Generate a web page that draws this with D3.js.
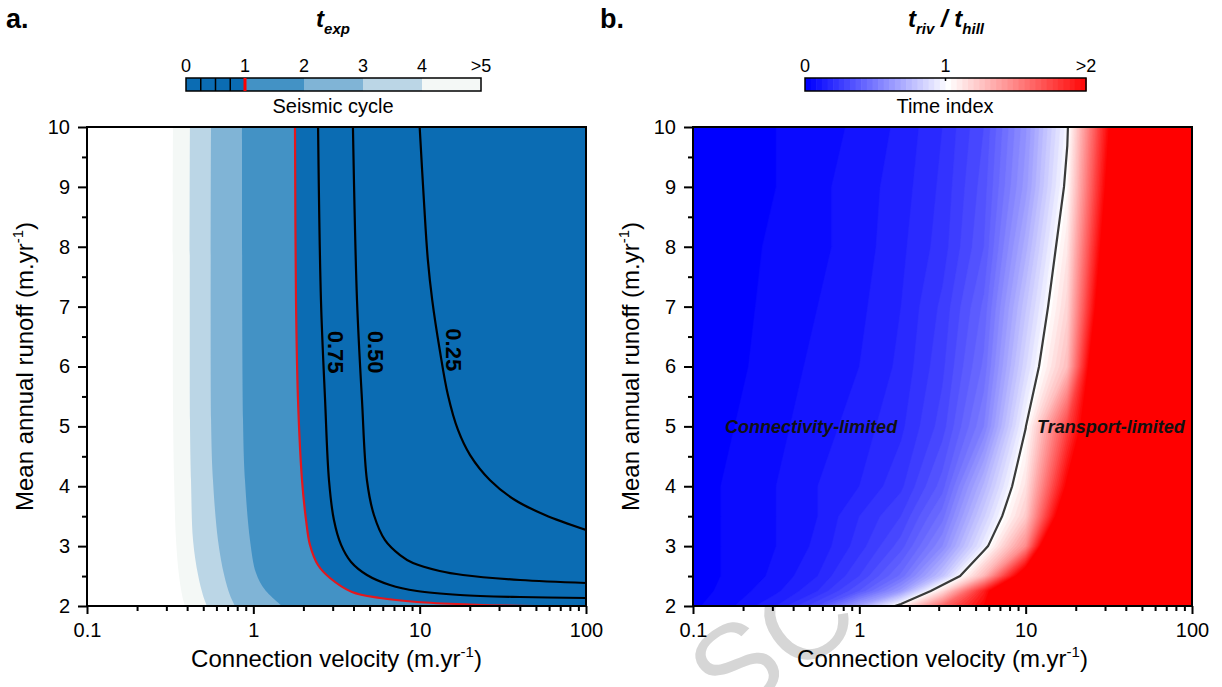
<!DOCTYPE html>
<html>
<head>
<meta charset="utf-8">
<script src="https://cdn.jsdelivr.net/npm/d3@7"></script>
<style>
  body { margin: 0; background: #fff; }
  text { font-family: Arial, "Liberation Sans", sans-serif; }
</style>
</head>
<body>
<svg id="fig" width="1222" height="687"></svg>
<script>
// ---------------- Shared axis values ----------------
const velMajor = [0.1, 1, 10, 100];
const velMajorLabels = ["0.1", "1", "10", "100"];
const velMinor = [0.2,0.3,0.4,0.5,0.6,0.7,0.8,0.9, 2,3,4,5,6,7,8,9, 20,30,40,50,60,70,80,90];
const runoffMajor = [2, 3, 4, 5, 6, 7, 8, 9, 10];
const runoffMinor = [2.5, 3.5, 4.5, 5.5, 6.5, 7.5, 8.5, 9.5];

// ---------------- Panel a: exposure time (seismic cycles) ----------------
// band colours: [0-1], [1-2], [2-3], [3-4], [4-5]; >5 is white
const expBandColors = ["#0b6cb3", "#4392c5", "#80b4d6", "#bbd6e6", "#f4f8f6"];
const expBarTicks = [0, 1, 2, 3, 4, 5];
const expBarLabels = ["0", "1", "2", "3", "4", ">5"];
// iso-lines as [connection velocity, runoff]
const expLine5 = [[0.329,10],[0.329,5.44],[0.334,4.10],[0.343,3.10],[0.357,2.52],[0.373,2.18],[0.388,2.0]];
const expLine4 = [[0.416,10],[0.416,5.11],[0.422,4.10],[0.434,3.10],[0.465,2.52],[0.498,2.18],[0.526,2.0]];
const expLine3 = [[0.557,10],[0.557,5.11],[0.572,4.10],[0.613,3.10],[0.667,2.52],[0.724,2.18],[0.776,2.0]];
const expLine2 = [[0.855,10],[0.867,5.11],[0.891,4.10],[0.955,3.10],[1.038,2.55],[1.175,2.27],[1.486,2.0]];
const expLine1 = [[1.78,10],[1.805,7.11],[1.856,5.44],[1.962,4.10],[2.074,3.44],[2.191,3.02],[2.448,2.685],
                  [2.89,2.468],[3.92,2.234],[5.77,2.134],[9.64,2.067],[20.1,2.025],[40,2.004],[100,2.0]];
const expLine075 = [[2.45,10],[2.55,7.11],[2.70,5.44],[2.85,4.10],[3.05,3.44],[3.37,3.02],[3.87,2.735],
                    [4.82,2.518],[6.63,2.351],[9.64,2.25],[17.5,2.184],[40.1,2.15],[100,2.134]];
const expLine050 = [[3.97,10],[4.20,7.11],[4.50,5.44],[4.82,4.10],[5.31,3.52],[6.19,3.10],[7.62,2.85],
                    [9.12,2.718],[13.2,2.585],[18.2,2.518],[40.1,2.434],[100,2.384]];
const expLine025 = [[10.0,10],[10.6,8.78],[11.2,7.78],[11.9,7.11],[13.2,6.28],[14.8,5.52],[17.0,4.94],
                    [20.1,4.52],[26.5,4.10],[37.4,3.77],[56.7,3.52],[100,3.27]];

// ---------------- Panel b: t_riv / t_hill ----------------
const riverVel = [0.1, 0.178, 0.316, 0.562, 1, 1.78, 3.16, 5.62, 10, 17.8, 31.6, 56.2, 100];
const riverRunoff = [2, 2.25, 2.5, 3, 3.5, 4, 5, 6, 7, 8, 9, 10];
// one row per runoff value (bottom to top), one column per velocity
const timeIndex = [
  [0.03, 0.08, 0.16, 0.32, 0.65, 1.06, 1.60, 2.01, 2.80, 3.4, 3.9, 4.4, 4.8],
  [0.02, 0.06, 0.11, 0.20, 0.36, 0.62, 1.15, 1.90, 2.73, 3.3, 3.8, 4.3, 4.7],
  [0.02, 0.05, 0.09, 0.16, 0.28, 0.45, 0.78, 1.30, 2.23, 2.9, 3.5, 4.0, 4.5],
  [0.02, 0.05, 0.08, 0.13, 0.22, 0.34, 0.56, 0.95, 1.47, 3.0, 3.5, 4.0, 4.4],
  [0.02, 0.05, 0.08, 0.12, 0.20, 0.28, 0.46, 0.83, 1.22, 2.32, 2.9, 3.4, 3.9],
  [0.02, 0.05, 0.08, 0.12, 0.16, 0.23, 0.38, 0.73, 1.13, 2.05, 2.7, 3.2, 3.7],
  [0.02, 0.04, 0.07, 0.10, 0.14, 0.19, 0.30, 0.52, 0.995, 1.75, 2.56, 3.1, 3.6],
  [0.01, 0.03, 0.06, 0.09, 0.12, 0.17, 0.27, 0.45, 0.87, 1.276, 2.72, 3.2, 3.7],
  [0.01, 0.03, 0.05, 0.08, 0.11, 0.16, 0.25, 0.41, 0.79, 1.18, 2.41, 2.9, 3.5],
  [0.00, 0.02, 0.05, 0.07, 0.10, 0.15, 0.22, 0.36, 0.70, 1.112, 2.24, 2.8, 3.4],
  [0.00, 0.02, 0.04, 0.07, 0.10, 0.14, 0.21, 0.34, 0.62, 1.033, 2.10, 2.7, 3.3],
  [0.00, 0.02, 0.04, 0.06, 0.09, 0.13, 0.20, 0.32, 0.59, 0.985, 2.00, 2.6, 3.2]
];
const indexLevelStep = 0.04;
const indexBarTicks = [0, 1, 2];
const indexBarLabels = ["0", "1", ">2"];

// ---------------- Layout ----------------
const svg = d3.select("#fig");
const FONT = 'Arial, "Liberation Sans", sans-serif';
const pa = {l: 87, r: 586, t: 127, b: 606};
const pb = {l: 693, r: 1192, t: 127, b: 606};

const xA = d3.scaleLog().domain([0.1, 100]).range([pa.l, pa.r]);
const yA = d3.scaleLinear().domain([2, 10]).range([pa.b, pa.t]);
const xB = d3.scaleLog().domain([0.1, 100]).range([pb.l, pb.r]);
const yB = d3.scaleLinear().domain([2, 10]).range([pb.b, pb.t]);

// faint diagonal watermark lettering beneath panel b
svg.append("text").attr("transform", "translate(727,723) rotate(-35)")
  .attr("font-size", 120).attr("fill", "#d6d6d6").attr("font-family", FONT)
  .text("SC");

const defs = svg.append("defs");
defs.append("clipPath").attr("id", "clipA").append("rect")
  .attr("x", pa.l).attr("y", pa.t).attr("width", pa.r - pa.l).attr("height", pa.b - pa.t);
defs.append("clipPath").attr("id", "clipB").append("rect")
  .attr("x", pb.l).attr("y", pb.t).attr("width", pb.r - pb.l).attr("height", pb.b - pb.t);

// ---------------- Panel a plot ----------------
const gA = svg.append("g").attr("clip-path", "url(#clipA)");
gA.append("rect").attr("x", pa.l).attr("y", pa.t).attr("width", pa.r - pa.l)
  .attr("height", pa.b - pa.t).attr("fill", "#fff");

const lineA = d3.line().x(d => xA(d[0])).y(d => yA(d[1])).curve(d3.curveCatmullRom.alpha(0.5));

// region to the right of an iso-line (shorter exposure time)
function rightRegion(pts) {
  let p = lineA(pts);
  const xr = xA(100) + 5, yb = yA(2) + 5, yt = yA(10) - 5;
  p += `L${xr},${yb}L${xr},${yt}L${xA(pts[0][0])},${yt}Z`;
  return p;
}
[[expLine5, 4], [expLine4, 3], [expLine3, 2], [expLine2, 1], [expLine1, 0]].forEach(([pts, ci]) => {
  gA.append("path").attr("d", rightRegion(pts)).attr("fill", expBandColors[ci]);
});
[expLine075, expLine050, expLine025].forEach(pts => {
  gA.append("path").attr("d", lineA(pts)).attr("fill", "none")
    .attr("stroke", "#000").attr("stroke-width", 2.2);
});
gA.append("path").attr("d", lineA(expLine1)).attr("fill", "none")
  .attr("stroke", "#e3171d").attr("stroke-width", 2.2);

// contour labels
[["0.75", 3.14, 6.24], ["0.50", 5.43, 6.24], ["0.25", 16.0, 6.28]].forEach(([t, v, r]) => {
  svg.append("text")
    .attr("transform", `translate(${xA(v)},${yA(r)}) rotate(90)`)
    .attr("text-anchor", "middle").attr("dy", "0.36em")
    .attr("font-size", 22).attr("font-weight", "bold").attr("fill", "#000")
    .text(t);
});

// ---------------- Panel b plot ----------------
const gB = svg.append("g").attr("clip-path", "url(#clipB)");
const nx = riverVel.length, ny = riverRunoff.length;
const grid = [];
for (let j = 0; j < ny; j++) for (let i = 0; i < nx; i++) grid.push(timeIndex[j][i]);

const gx = d3.scaleLinear().domain(d3.range(nx).map(i => i + 0.5)).range(riverVel.map(v => xB(v)));
const gy = d3.scaleLinear().domain(d3.range(ny).map(j => j + 0.5)).range(riverRunoff.map(r => yB(r)));
const gridPath = d3.geoPath(d3.geoTransform({
  point(x, y) { this.stream.point(gx(x), gy(y)); }
}));

const indexColor = d3.scaleLinear().domain([0, 1, 2]).range(["#0000ff", "#ffffff", "#ff0000"]).clamp(true);
const levels = d3.range(0, 2 + 1e-9, indexLevelStep);
const bands = d3.contours().size([nx, ny]).thresholds(levels)(grid);
gB.selectAll("path.band").data(bands).join("path").attr("class", "band")
  .attr("d", gridPath).attr("fill", d => indexColor(d.value))
  .attr("stroke", d => indexColor(d.value)).attr("stroke-width", 0.5);

const unity = d3.contours().size([nx, ny]).contour(grid, 1);
gB.append("path").attr("d", gridPath(unity)).attr("fill", "none")
  .attr("stroke", "#3a3a3a").attr("stroke-width", 2.2);

svg.append("text").attr("x", xB(0.156)).attr("y", yB(5)).attr("dy", "0.36em")
  .attr("font-size", 18).attr("font-weight", "bold").attr("font-style", "italic")
  .attr("fill", "#111").text("Connectivity-limited");
svg.append("text").attr("x", xB(11.7)).attr("y", yB(5)).attr("dy", "0.36em")
  .attr("font-size", 18).attr("font-weight", "bold").attr("font-style", "italic")
  .attr("fill", "#111").text("Transport-limited");

// ---------------- Axes and frames ----------------
function styleAxis(g) {
  g.select(".domain").remove();
  g.attr("font-size", 20).attr("font-family", FONT);
  g.selectAll("line").attr("stroke", "#000").attr("stroke-width", 2);
  g.selectAll("text").attr("fill", "#000");
}
function drawAxes(x, y, p) {
  svg.append("g").attr("transform", `translate(0,${p.b})`)
    .call(d3.axisBottom(x).tickValues(velMinor).tickSize(5).tickFormat("").tickSizeOuter(0)).call(styleAxis);
  svg.append("g").attr("transform", `translate(0,${p.b})`)
    .call(d3.axisBottom(x).tickValues(velMajor).tickSize(8).tickPadding(9)
      .tickFormat((d, i) => velMajorLabels[i]).tickSizeOuter(0)).call(styleAxis);
  svg.append("g").attr("transform", `translate(${p.l},0)`)
    .call(d3.axisLeft(y).tickValues(runoffMinor).tickSize(5).tickFormat("").tickSizeOuter(0)).call(styleAxis);
  svg.append("g").attr("transform", `translate(${p.l},0)`)
    .call(d3.axisLeft(y).tickValues(runoffMajor).tickSize(9).tickPadding(8)
      .tickFormat(d3.format("d")).tickSizeOuter(0)).call(styleAxis);
  svg.append("rect").attr("x", p.l).attr("y", p.t).attr("width", p.r - p.l).attr("height", p.b - p.t)
    .attr("fill", "none").attr("stroke", "#000").attr("stroke-width", 2);

  // axis titles with superscript units
  const xt = svg.append("text").attr("x", (p.l + p.r) / 2).attr("y", 667)
    .attr("text-anchor", "middle").attr("font-size", 24).attr("fill", "#000");
  xt.append("tspan").text("Connection velocity (m.yr");
  xt.append("tspan").attr("dy", -10).attr("font-size", 15).text("-1");
  xt.append("tspan").attr("dy", 10).text(")");
  const yt = svg.append("text").attr("transform", `translate(${p.l - 54},${(p.t + p.b) / 2}) rotate(-90)`)
    .attr("text-anchor", "middle").attr("font-size", 24).attr("fill", "#000");
  yt.append("tspan").text("Mean annual runoff (m.yr");
  yt.append("tspan").attr("dy", -10).attr("font-size", 15).text("-1");
  yt.append("tspan").attr("dy", 10).text(")");
}
drawAxes(xA, yA, pa);
drawAxes(xB, yB, pb);

// ---------------- Colour bars and titles ----------------
// panel a colour bar
const cbA = d3.scaleLinear().domain([0, 5]).range([186, 481]);
const cbY = 78, cbH = 13;
expBandColors.forEach((c, i) => {
  svg.append("rect").attr("x", cbA(i)).attr("y", cbY).attr("width", cbA(i + 1) - cbA(i))
    .attr("height", cbH).attr("fill", c);
});
[0.25, 0.5, 0.75].forEach(v => {
  svg.append("line").attr("x1", cbA(v)).attr("x2", cbA(v)).attr("y1", cbY).attr("y2", cbY + cbH)
    .attr("stroke", "#000").attr("stroke-width", 1.5);
});
svg.append("rect").attr("x", cbA(0)).attr("y", cbY).attr("width", cbA(5) - cbA(0)).attr("height", cbH)
  .attr("fill", "none").attr("stroke", "#000").attr("stroke-width", 1.5);
svg.append("line").attr("x1", cbA(1)).attr("x2", cbA(1)).attr("y1", cbY).attr("y2", cbY + cbH)
  .attr("stroke", "#ff0000").attr("stroke-width", 3);
expBarTicks.forEach((v, i) => {
  svg.append("text").attr("x", cbA(v)).attr("y", 72).attr("text-anchor", "middle")
    .attr("font-size", 18).attr("fill", "#000").text(expBarLabels[i]);
});
svg.append("text").attr("x", 333).attr("y", 113).attr("text-anchor", "middle")
  .attr("font-size", 20).attr("fill", "#000").text("Seismic cycle");

// panel b colour bar (stepped)
const cbB = d3.scaleLinear().domain([0, 2]).range([805, 1086]);
levels.filter(v => v < 2 - 1e-9).forEach(v => {
  svg.append("rect").attr("x", cbB(v)).attr("y", cbY).attr("width", cbB(v + indexLevelStep) - cbB(v) + 0.6)
    .attr("height", cbH).attr("fill", indexColor(v));
});
svg.append("rect").attr("x", cbB(0)).attr("y", cbY).attr("width", cbB(2) - cbB(0)).attr("height", cbH)
  .attr("fill", "none").attr("stroke", "#000").attr("stroke-width", 1.5);
svg.append("line").attr("x1", cbB(1)).attr("x2", cbB(1)).attr("y1", cbY).attr("y2", cbY + 3)
  .attr("stroke", "#000").attr("stroke-width", 1.5);
indexBarTicks.forEach((v, i) => {
  svg.append("text").attr("x", cbB(v)).attr("y", 72).attr("text-anchor", "middle")
    .attr("font-size", 18).attr("fill", "#000").text(indexBarLabels[i]);
});
svg.append("text").attr("x", 945).attr("y", 113).attr("text-anchor", "middle")
  .attr("font-size", 20).attr("fill", "#000").text("Time index");

// panel titles
const tA = svg.append("text").attr("x", 333).attr("y", 27).attr("text-anchor", "middle")
  .attr("font-weight", "bold").attr("font-style", "italic").attr("font-size", 24).attr("fill", "#000");
tA.append("tspan").text("t");
tA.append("tspan").attr("dy", 7).attr("font-size", 15).text("exp");

const tB = svg.append("text").attr("x", 946).attr("y", 27).attr("text-anchor", "middle")
  .attr("font-weight", "bold").attr("font-style", "italic").attr("font-size", 24).attr("fill", "#000");
tB.append("tspan").text("t");
tB.append("tspan").attr("dy", 7).attr("font-size", 15).text("riv");
tB.append("tspan").attr("dy", -7).text(" / t");
tB.append("tspan").attr("dy", 7).attr("font-size", 15).text("hill");

// panel letters
svg.append("text").attr("x", 6).attr("y", 28).attr("font-size", 27).attr("font-weight", "bold")
  .attr("fill", "#000").text("a.");
svg.append("text").attr("x", 600).attr("y", 28).attr("font-size", 27).attr("font-weight", "bold")
  .attr("fill", "#000").text("b.");
</script>
</body>
</html>
